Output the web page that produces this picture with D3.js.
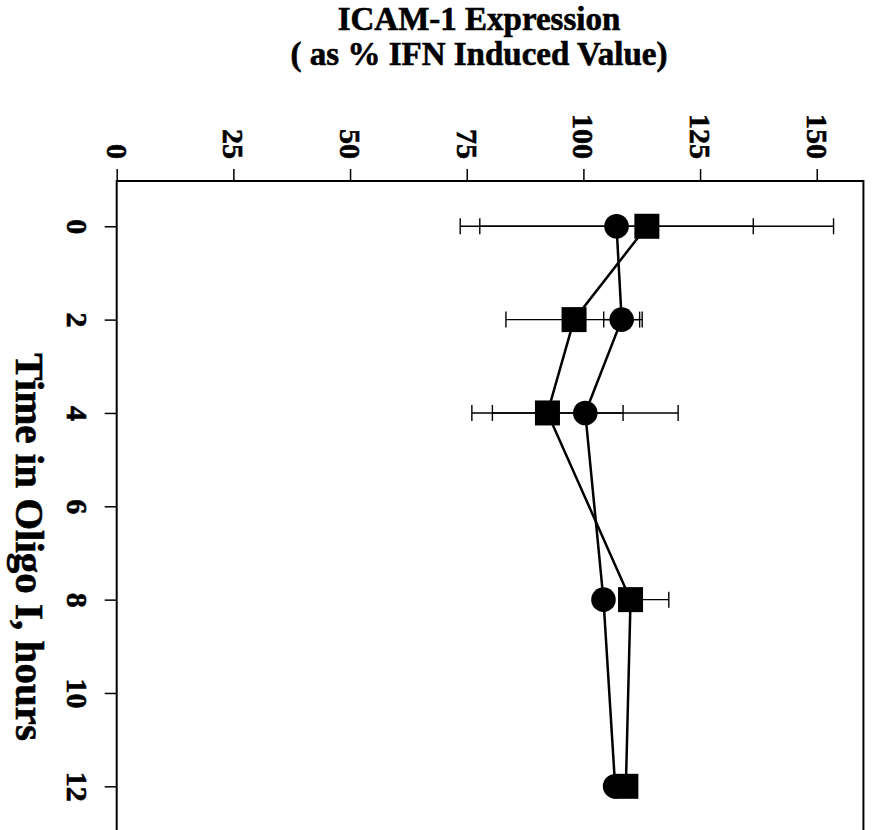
<!DOCTYPE html>
<html>
<head>
<meta charset="utf-8">
<script src="https://cdn.jsdelivr.net/npm/d3@7"></script>
<style>
  html, body { margin: 0; padding: 0; background: #fff; }
  svg { display: block; }
</style>
</head>
<body>
<script>
// ICAM-1 expression over time in Oligo I, two conditions (circles, squares)
const hours = [0, 2, 4, 8, 12];
const circleMean    = [107.1, 108.2, 100.4, 104.3, 106.8];
const circleErrLow  = [29.3, 3.85, 19.9, 0, 0];
const circleErrHigh = [29.3, 3.85, 19.9, 0, 0];
const squareMean    = [113.6, 98.0, 92.3, 110.1, 109.1];
const squareErrLow  = [40.0, 14.6, 16.2, 0, 0];
const squareErrHigh = [40.0, 14.6, 16.2, 8.2, 0];
const valueTicks = [0, 25, 50, 75, 100, 125, 150];
const hourTicks  = [0, 2, 4, 6, 8, 10, 12];
const titleLines = ["ICAM-1 Expression", "( as % IFN Induced Value)"];
const hourTitle  = "Time in Oligo I, hours";

const W = 876, H = 830;
const FONT = "'Liberation Serif', 'Times New Roman', serif";
const plotLeft = 116.7, plotTop = 181;
const pxPerPct = 4.667, pxPerHour = 46.67;

const x = d3.scaleLinear().domain([0, 160]).range([plotLeft, plotLeft + 160 * pxPerPct]);
const y = d3.scaleLinear().domain([-0.97, 13]).range([plotTop, plotTop + 13.97 * pxPerHour]);

const svg = d3.select("body").append("svg")
  .attr("width", W).attr("height", H)
  .attr("viewBox", `0 0 ${W} ${H}`);

svg.append("rect").attr("width", W).attr("height", H).attr("fill", "#fff");

// heavy bold text helper
function heavy(sel, size) {
  return sel.style("font-family", FONT).style("font-weight", "bold")
    .style("font-size", size + "px")
    .attr("fill", "#000").attr("stroke", "#000").attr("stroke-width", 0.6);
}

// plot frame
svg.append("rect")
  .attr("x", x(0)).attr("y", y(-0.97))
  .attr("width", x(160) - x(0)).attr("height", y(13) - y(-0.97))
  .attr("fill", "none").attr("stroke", "#000").attr("stroke-width", 2);

// value axis along the top
const gTop = svg.append("g").attr("transform", `translate(0,${plotTop})`)
  .call(d3.axisTop(x).tickValues(valueTicks).tickSize(12).tickSizeOuter(0));
gTop.select(".domain").remove();
gTop.selectAll(".tick line").attr("stroke", "#000").attr("stroke-width", 1.5);
heavy(gTop.selectAll(".tick text"), 30)
  .attr("transform", "rotate(90)")
  .attr("x", -22).attr("y", 0).attr("dy", "0.35em")
  .style("text-anchor", "end");

// time axis along the left
const gLeft = svg.append("g").attr("transform", `translate(${plotLeft},0)`)
  .call(d3.axisLeft(y).tickValues(hourTicks).tickSize(12).tickSizeOuter(0));
gLeft.select(".domain").remove();
gLeft.selectAll(".tick line").attr("stroke", "#000").attr("stroke-width", 1.5);
heavy(gLeft.selectAll(".tick text"), 30)
  .attr("transform", "rotate(90)")
  .attr("x", 0).attr("y", 39.5).attr("dy", "0.35em")
  .style("text-anchor", "middle");

// titles
heavy(svg.append("g").selectAll("text").data(titleLines).join("text"), 33)
  .attr("x", 479).attr("y", (d, i) => 30 + i * 35)
  .attr("text-anchor", "middle")
  .text(d => d);

heavy(svg.append("text"), 41)
  .attr("transform", "translate(16,547) rotate(90)")
  .attr("text-anchor", "middle")
  .text(hourTitle);

const circles = hours.map((h, i) => ({ h, v: circleMean[i], lo: circleErrLow[i], hi: circleErrHigh[i] }));
const squares = hours.map((h, i) => ({ h, v: squareMean[i], lo: squareErrLow[i], hi: squareErrHigh[i] }));

// error bars with end caps
const cap = 8;
function errorBars(data) {
  const g = svg.append("g").attr("stroke", "#000").attr("stroke-width", 1.4);
  data.forEach(d => {
    const yy = y(d.h);
    [[d.lo, -1], [d.hi, 1]].forEach(([e, dir]) => {
      if (!(e > 0)) return;
      const x0 = x(d.v), x1 = x(d.v + dir * e);
      g.append("line").attr("x1", x0).attr("x2", x1).attr("y1", yy).attr("y2", yy);
      g.append("line").attr("x1", x1).attr("x2", x1).attr("y1", yy - cap).attr("y2", yy + cap);
    });
  });
}
errorBars(circles);
errorBars(squares);

// connecting lines
const line = d3.line().x(d => x(d.v)).y(d => y(d.h));
[circles, squares].forEach(data => {
  svg.append("path").datum(data)
    .attr("d", line).attr("fill", "none")
    .attr("stroke", "#000").attr("stroke-width", 2.5);
});

// markers
svg.append("g").selectAll("circle").data(circles).join("circle")
  .attr("cx", d => x(d.v)).attr("cy", d => y(d.h)).attr("r", 12.3)
  .attr("fill", "#000");

const side = 25;
svg.append("g").selectAll("rect").data(squares).join("rect")
  .attr("x", d => x(d.v) - side / 2).attr("y", d => y(d.h) - side / 2)
  .attr("width", side).attr("height", side)
  .attr("fill", "#000");
</script>
</body>
</html>
